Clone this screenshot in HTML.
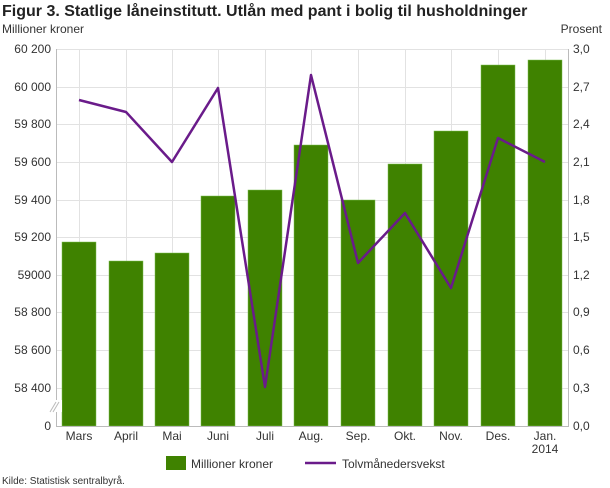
<!DOCTYPE html><html><head><style>body{margin:0;background:#fff}svg{display:block;font-family:"Liberation Sans",sans-serif}</style></head><body>
<svg width="610" height="488" xmlns="http://www.w3.org/2000/svg">
<text x="2" y="16" font-size="16" font-weight="bold" fill="#222">Figur 3. Statlige låneinstitutt. Utlån med pant i bolig til husholdninger</text>
<text x="2" y="33" font-size="12" fill="#333">Millioner kroner</text>
<text x="602" y="33" font-size="12" fill="#333" text-anchor="end">Prosent</text>
<g stroke="#e2e2e2" stroke-width="1">
<line x1="57" x2="568" y1="49.5" y2="49.5"/><line x1="57" x2="568" y1="87.5" y2="87.5"/><line x1="57" x2="568" y1="124.5" y2="124.5"/><line x1="57" x2="568" y1="162.5" y2="162.5"/><line x1="57" x2="568" y1="200.5" y2="200.5"/><line x1="57" x2="568" y1="237.5" y2="237.5"/><line x1="57" x2="568" y1="275.5" y2="275.5"/><line x1="57" x2="568" y1="312.5" y2="312.5"/><line x1="57" x2="568" y1="350.5" y2="350.5"/><line x1="57" x2="568" y1="388.5" y2="388.5"/>
<line x1="79.5" x2="79.5" y1="49" y2="425"/><line x1="126.5" x2="126.5" y1="49" y2="425"/><line x1="172.5" x2="172.5" y1="49" y2="425"/><line x1="218.5" x2="218.5" y1="49" y2="425"/><line x1="265.5" x2="265.5" y1="49" y2="425"/><line x1="311.5" x2="311.5" y1="49" y2="425"/><line x1="358.5" x2="358.5" y1="49" y2="425"/><line x1="405.5" x2="405.5" y1="49" y2="425"/><line x1="451.5" x2="451.5" y1="49" y2="425"/><line x1="498.5" x2="498.5" y1="49" y2="425"/><line x1="545.5" x2="545.5" y1="49" y2="425"/>
</g>
<g fill="#3f8200" stroke="#7fbf50" stroke-width="0.5">
<rect x="62" y="242" width="34" height="184"/><rect x="109" y="261" width="34" height="165"/><rect x="155" y="253" width="34" height="173"/><rect x="201" y="196" width="34" height="230"/><rect x="248" y="190" width="34" height="236"/><rect x="294" y="145" width="34" height="281"/><rect x="341" y="200" width="34" height="226"/><rect x="388" y="164" width="34" height="262"/><rect x="434" y="131" width="34" height="295"/><rect x="481" y="65" width="34" height="361"/><rect x="528" y="60" width="34" height="366"/>
</g>
<line x1="56.5" x2="56.5" y1="49" y2="426" stroke="#bbb"/>
<line x1="568.5" x2="568.5" y1="49" y2="426" stroke="#bbb"/>
<line x1="56" x2="569" y1="426.5" y2="426.5" stroke="#bbb"/>
<rect x="48" y="400" width="14" height="12" fill="#fff"/>
<g stroke="#bbb"><line x1="50" y1="412" x2="56" y2="402"/><line x1="53" y1="412" x2="59" y2="402"/></g>
<polyline fill="none" stroke="#6a1b8a" stroke-width="2.5" stroke-linejoin="round" points="79,100 126,112 172,162 218,88 265,387 311,75 358,263 405,213 451,288 498,138 545,162"/>
<g font-size="12" fill="#333" text-anchor="end">
<text x="51" y="53">60 200</text><text x="51" y="91">60 000</text><text x="51" y="128">59 800</text><text x="51" y="166">59 600</text><text x="51" y="204">59 400</text><text x="51" y="241">59  200</text><text x="51" y="279">59000</text><text x="51" y="316">58 800</text><text x="51" y="354">58 600</text><text x="51" y="392">58 400</text><text x="51" y="430">0</text>
</g>
<g font-size="12" fill="#333">
<text x="573" y="53">3,0</text><text x="573" y="91">2,7</text><text x="573" y="128">2,4</text><text x="573" y="166">2,1</text><text x="573" y="204">1,8</text><text x="573" y="241">1,5</text><text x="573" y="279">1,2</text><text x="573" y="316">0,9</text><text x="573" y="354">0,6</text><text x="573" y="392">0,3</text><text x="573" y="430">0,0</text>
</g>
<g font-size="12" fill="#333" text-anchor="middle">
<text x="79" y="440">Mars</text><text x="126" y="440">April</text><text x="172" y="440">Mai</text><text x="218" y="440">Juni</text><text x="265" y="440">Juli</text><text x="311" y="440">Aug.</text><text x="358" y="440">Sep.</text><text x="405" y="440">Okt.</text><text x="451" y="440">Nov.</text><text x="498" y="440">Des.</text><text x="545" y="440">Jan.</text><text x="545" y="453">2014</text>
</g>
<rect x="166" y="456" width="20" height="14" fill="#3f8200"/>
<text x="191" y="468" font-size="12" fill="#333">Millioner kroner</text>
<line x1="305" x2="336" y1="463" y2="463" stroke="#6a1b8a" stroke-width="2.5"/>
<text x="342" y="468" font-size="12" fill="#333">Tolvmånedersvekst</text>
<text x="2" y="484" font-size="10" fill="#333">Kilde: Statistisk sentralbyrå.</text>
</svg>
</body></html>
